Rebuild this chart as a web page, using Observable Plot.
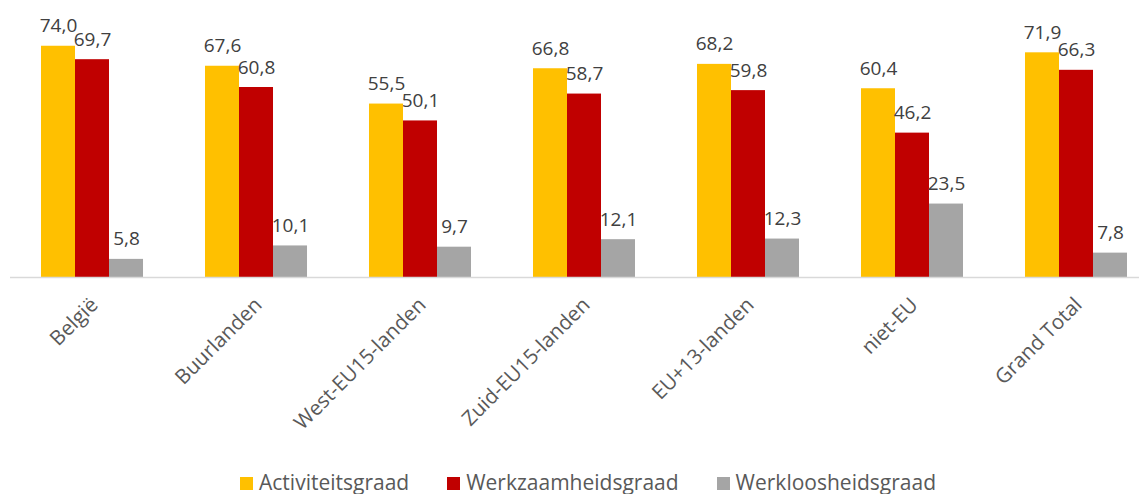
<!DOCTYPE html>
<html>
<head>
<meta charset="utf-8">
<script src="https://cdn.jsdelivr.net/npm/d3@7"></script>
<script src="https://cdn.jsdelivr.net/npm/@observablehq/plot@0.6"></script>
<style>
  html, body { margin: 0; padding: 0; background: #fff; }
  body { width: 1145px; height: 494px; overflow: hidden; font-family: "Open Sans", "Liberation Sans", sans-serif; }
  #chart svg { display: block; }
  #legend { display: flex; justify-content: center; align-items: center; height: 26px; padding-top: 14px; margin-left: 31px; font-size: 21px; line-height: 26px; color: #595959; }
  #legend .item { display: flex; align-items: center; margin-right: 38px; }
  #legend .item:last-child { margin-right: 0; }
  #legend .sw { width: 13px; height: 13px; margin-right: 6px; margin-top: 3px; }
</style>
</head>
<body>
<div id="chart"></div>
<div id="legend"></div>
<script>
const groups = ["België", "Buurlanden", "West-EU15-landen", "Zuid-EU15-landen", "EU+13-landen", "niet-EU", "Grand Total"];
const series = ["Activiteitsgraad", "Werkzaamheidsgraad", "Werkloosheidsgraad"];
const activiteitsgraad = [74.0, 67.6, 55.5, 66.8, 68.2, 60.4, 71.9];
const werkzaamheidsgraad = [69.7, 60.8, 50.1, 58.7, 59.8, 46.2, 66.3];
const werkloosheidsgraad = [5.8, 10.1, 9.7, 12.1, 12.3, 23.5, 7.8];
const colors = ["#FFC000", "#C00000", "#A5A5A5"];

const valuesBySeries = [activiteitsgraad, werkzaamheidsgraad, werkloosheidsgraad];
const data = [];
groups.forEach((g, i) => series.forEach((s, j) => data.push({group: g, series: s, value: valuesBySeries[j][i]})));

const fmt = v => v.toFixed(1).replace(".", ",");

const chart = Plot.plot({
  width: 1145,
  height: 455,
  marginTop: 0,
  marginLeft: 0,
  marginRight: 0,
  marginBottom: 178,
  style: {fontFamily: "'Open Sans', 'Liberation Sans', sans-serif", fontSize: "19px", background: "#fff"},
  fx: {domain: groups, range: [41, 1127], paddingInner: 0.378, paddingOuter: 0, round: false, label: null, axis: null},
  x: {domain: series, axis: null, paddingInner: 0, paddingOuter: 0, round: false},
  y: {domain: [0, 88.64], axis: null},
  color: {domain: series, range: colors},
  marks: [
    Plot.barY(data, {fx: "group", x: "series", y: "value", fill: "series", insetLeft: 0, insetRight: 0}),
    Plot.text(data, {fx: "group", x: "series", y: "value", text: d => fmt(d.value), lineAnchor: "bottom", dy: -14, fill: "#404040", fontSize: 19}),
    Plot.axisFx({anchor: "bottom", tickRotate: -45, tickSize: 0, tickPadding: 24, dx: 2, fontSize: 20.5, fill: "#595959", label: null, textAnchor: "end"})
  ]
});
document.getElementById("chart").appendChild(chart);

// baseline axis line drawn through the y scale
const y0 = chart.scale("y").apply(0);
d3.select(chart).append("line")
  .attr("x1", 10).attr("x2", 1139)
  .attr("y1", y0 + 0.5).attr("y2", y0 + 0.5)
  .attr("stroke", "#D9D9D9").attr("stroke-width", 1.5);

const legend = d3.select("#legend");
series.forEach((s, i) => {
  const it = legend.append("div").attr("class", "item");
  it.append("div").attr("class", "sw").style("background", colors[i]);
  it.append("span").text(s);
});
</script>
</body>
</html>
